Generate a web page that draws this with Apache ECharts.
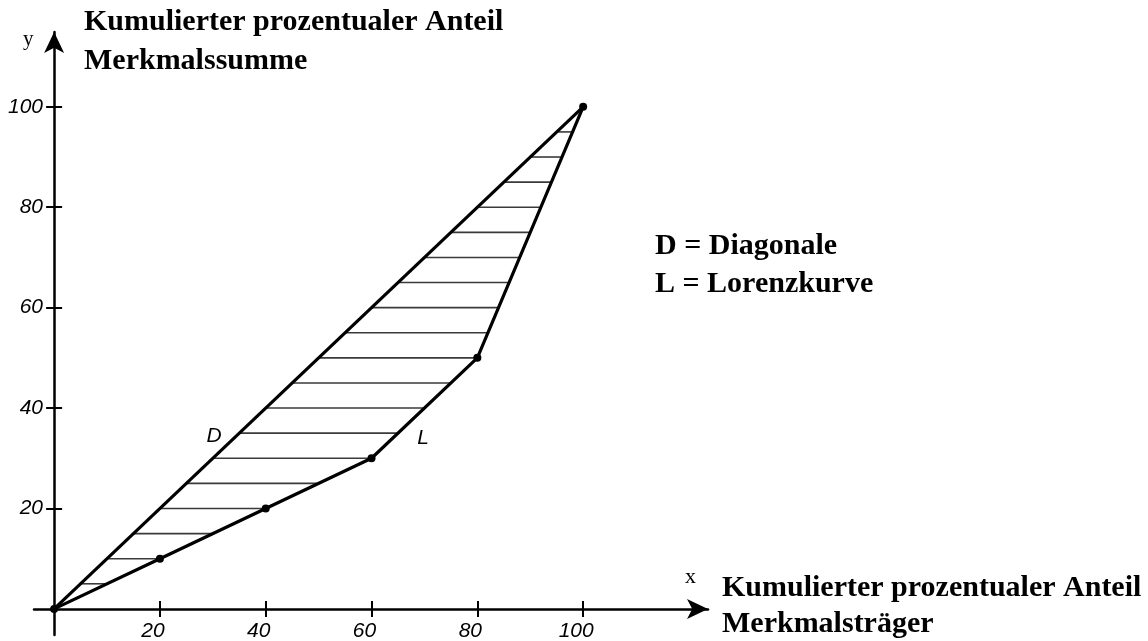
<!DOCTYPE html>
<html>
<head>
<meta charset="utf-8">
<script src="https://cdn.jsdelivr.net/npm/echarts@6/dist/echarts.min.js"></script>
<style>html,body{margin:0;padding:0;background:#fff}#c{width:1148px;height:641px}</style>
</head>
<body>
<div id="c"></div>
<script>
// Data
const lorenzX = [0, 20, 40, 60, 80, 100];
const lorenzY = [0, 10, 20, 30, 50, 100];
const diagX = [0, 100];
const diagY = [0, 100];
const hatchLevels = [5, 10, 15, 20, 25, 30, 35, 40, 45, 50, 55, 60, 65, 70, 75, 80, 85, 90, 95];
const tickValues = [20, 40, 60, 80, 100];
const yTitle = ['Kumulierter prozentualer Anteil', 'Merkmalssumme'];
const xTitle = ['Kumulierter prozentualer Anteil', 'Merkmalsträger'];
const legendLines = ['D = Diagonale', 'L = Lorenzkurve'];

function lorenzInverse(y) {
  for (let i = 1; i < lorenzY.length; i++) {
    if (y <= lorenzY[i]) {
      const t = (y - lorenzY[i - 1]) / (lorenzY[i] - lorenzY[i - 1]);
      return lorenzX[i - 1] + t * (lorenzX[i] - lorenzX[i - 1]);
    }
  }
  return lorenzX[lorenzX.length - 1];
}
function diagInverse(y) {
  return diagX[0] + (y - diagY[0]) / (diagY[1] - diagY[0]) * (diagX[1] - diagX[0]);
}

const chart = echarts.init(document.getElementById('c'));
const serif = '"Liberation Serif", "Times New Roman", serif';
const labelFont = { fontFamily: '"Liberation Sans", sans-serif', fontStyle: 'italic', fontSize: 21, color: '#000' };
const axisLineStyle = { color: '#000', width: 2.5 };
const tickStyle = { color: '#000', width: 2 };

chart.setOption({
  animation: false,
  backgroundColor: '#fff',
  grid: { left: 34, top: 32, width: 674, height: 603, containLabel: false, outerBoundsMode: 'none' },
  xAxis: [
    {
      type: 'value', min: -3.8, max: 123.6,
      axisLine: { onZero: true, symbol: ['none', 'arrow'], symbolSize: [15, 21], lineStyle: axisLineStyle },
      axisTick: { customValues: tickValues, length: 8, lineStyle: tickStyle },
      axisLabel: Object.assign({ customValues: tickValues, margin: -14, padding: [0, 14, 0, 0] }, labelFont),
      splitLine: { show: false }
    },
    {
      type: 'value', min: -3.8, max: 123.6, position: 'bottom',
      axisLine: { show: false, onZero: true },
      axisTick: { customValues: tickValues, inside: true, length: 8, lineStyle: tickStyle },
      axisLabel: { show: false },
      splitLine: { show: false }
    }
  ],
  yAxis: [
    {
      type: 'value', min: -5.2, max: 114.9,
      axisLine: { onZero: true, symbol: ['none', 'arrow'], symbolSize: [15, 21], lineStyle: axisLineStyle },
      axisTick: { customValues: tickValues, length: 8, lineStyle: tickStyle },
      axisLabel: Object.assign({ customValues: tickValues, margin: -9 }, labelFont),
      splitLine: { show: false }
    },
    {
      type: 'value', min: -5.2, max: 114.9, position: 'left',
      axisLine: { show: false, onZero: true },
      axisTick: { customValues: tickValues, inside: true, length: 8, lineStyle: tickStyle },
      axisLabel: { show: false },
      splitLine: { show: false }
    }
  ],
  series: [
    {
      type: 'custom',
      silent: true,
      data: hatchLevels.map(v => [v]),
      renderItem: function (params, api) {
        const y = api.value(0);
        const p1 = api.coord([diagInverse(y), y]);
        const p2 = api.coord([lorenzInverse(y), y]);
        return {
          type: 'line',
          shape: { x1: p1[0], y1: p1[1], x2: p2[0], y2: p2[1] },
          style: { stroke: '#3a3a3a', lineWidth: 1.6 }
        };
      },
      z: 1
    },
    {
      type: 'line',
      data: diagX.map((x, i) => [x, diagY[i]]),
      showSymbol: false,
      lineStyle: { color: '#000', width: 3.2 },
      z: 3
    },
    {
      type: 'line',
      data: lorenzX.map((x, i) => [x, lorenzY[i]]),
      symbol: 'circle', symbolSize: 8,
      itemStyle: { color: '#000' },
      lineStyle: { color: '#000', width: 3.2 },
      z: 3
    }
  ],
  graphic: [
    { type: 'text', x: 84, y: 22, style: { text: yTitle[0], font: 'bold 30px ' + serif, fill: '#000', verticalAlign: 'middle' } },
    { type: 'text', x: 84, y: 61, style: { text: yTitle[1], font: 'bold 30px ' + serif, fill: '#000', verticalAlign: 'middle' } },
    { type: 'text', x: 23, y: 39, style: { text: 'y', font: '21px ' + serif, fill: '#000', verticalAlign: 'middle' } },
    { type: 'text', x: 722, y: 588, style: { text: xTitle[0], font: 'bold 30px ' + serif, fill: '#000', verticalAlign: 'middle' } },
    { type: 'text', x: 722, y: 624, style: { text: xTitle[1], font: 'bold 30px ' + serif, fill: '#000', verticalAlign: 'middle' } },
    { type: 'text', x: 685, y: 577, style: { text: 'x', font: '22px ' + serif, fill: '#000', verticalAlign: 'middle' } },
    { type: 'text', x: 655, y: 246, style: { text: legendLines[0], font: 'bold 30px ' + serif, fill: '#000', verticalAlign: 'middle' } },
    { type: 'text', x: 655, y: 284, style: { text: legendLines[1], font: 'bold 30px ' + serif, fill: '#000', verticalAlign: 'middle' } },
    { type: 'text', x: 214, y: 436, style: { text: 'D', font: 'italic 21px "Liberation Sans", sans-serif', fill: '#000', align: 'center', verticalAlign: 'middle' } },
    { type: 'text', x: 423, y: 438, style: { text: 'L', font: 'italic 21px "Liberation Sans", sans-serif', fill: '#000', align: 'center', verticalAlign: 'middle' } }
  ]
});
</script>
</body>
</html>
